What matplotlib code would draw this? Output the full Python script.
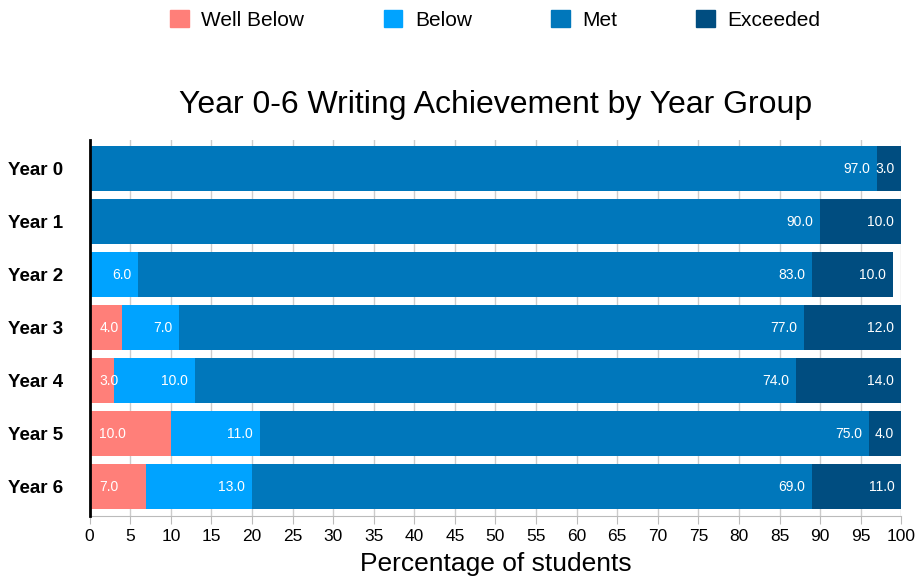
import numpy as np
import matplotlib.pyplot as plt
from matplotlib.patches import Patch

plt.rcParams['font.family'] = ['Liberation Sans', 'DejaVu Sans']

years = ['Year 0', 'Year 1', 'Year 2', 'Year 3', 'Year 4', 'Year 5', 'Year 6']
series = ['Well Below', 'Below', 'Met', 'Exceeded']
well_below = [0, 0, 0, 4, 3, 10, 7]
below = [0, 0, 6, 7, 10, 11, 13]
met = [97, 90, 83, 77, 74, 75, 69]
exceeded = [3, 10, 10, 12, 14, 4, 11]
colors = ['#FF7F79', '#00A3FF', '#0077BB', '#004D80']

fig = plt.figure(figsize=(9.15, 5.76), dpi=100)
ax = fig.add_axes([0.098, 0.104, 0.887, 0.653])

y = np.arange(len(years))
left = np.zeros(len(years))
for k, vals in enumerate([well_below, below, met, exceeded]):
    vals = np.array(vals, dtype=float)
    ax.barh(y, vals, left=left, height=0.85, color=colors[k], zorder=2)
    for i, v in enumerate(vals):
        if v <= 0:
            continue
        if k == 0:
            ax.annotate(f'{v:.1f}', xy=(left[i], y[i]), xytext=(7, 0),
                        textcoords='offset points', ha='left', va='center',
                        color='white', fontsize=10, zorder=3)
        else:
            end = min(left[i] + v, 100)
            ax.annotate(f'{v:.1f}', xy=(end, y[i]), xytext=(-5, 0),
                        textcoords='offset points', ha='right', va='center',
                        color='white', fontsize=10, zorder=3)
    left += vals

ax.set_xlim(0, 100)
ax.set_ylim(6.55, -0.54)
ax.set_xticks(np.arange(0, 101, 5))
ax.set_yticks(y)
ax.set_yticklabels(years, fontweight='bold', fontsize=13.5)
ax.tick_params(axis='x', labelsize=12.5, color='#bbbbbb', length=6)
ax.tick_params(axis='y', length=0, pad=19)
ax.grid(axis='x', color='#cccccc', linewidth=1, zorder=0)
for s in ['top', 'right']:
    ax.spines[s].set_visible(False)
ax.spines['bottom'].set_color('#bbbbbb')
ax.spines['left'].set_linewidth(2)
ax.spines['left'].set_zorder(4)

ax.set_xlabel('Percentage of students', fontsize=19, labelpad=5.5)
ax_cx = 0.098 + 0.887 / 2
fig.text(ax_cx, 0.818, 'Year 0-6 Writing Achievement by Year Group',
         ha='center', va='center', fontsize=23)

handles = [Patch(color=c) for c in colors]
fig.legend(handles, series, loc='upper center', bbox_to_anchor=(ax_cx, 1.015),
           ncol=4, frameon=False, fontsize=15, handlelength=0.9,
           handleheight=0.9, columnspacing=3.8, handletextpad=0.6)

fig.savefig('out.png', dpi=100)
